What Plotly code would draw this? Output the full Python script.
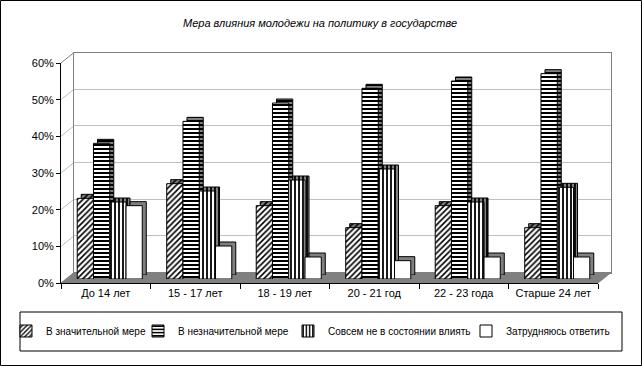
import plotly.graph_objects as go

categories = ["До 14 лет", "15 - 17 лет", "18 - 19 лет", "20 - 21 год", "22 - 23 года", "Старше 24 лет"]
series_names = ["В значительной мере", "В незначительной мере",
                "Совсем не в состоянии влиять", "Затрудняюсь ответить"]
v_significant = [0.22, 0.26, 0.20, 0.14, 0.20, 0.14]
v_insignificant = [0.37, 0.43, 0.48, 0.52, 0.54, 0.56]
v_cannot = [0.21, 0.24, 0.27, 0.30, 0.21, 0.25]
v_hard = [0.20, 0.09, 0.06, 0.05, 0.06, 0.06]
y_ticks = [0, 0.1, 0.2, 0.3, 0.4, 0.5, 0.6]
title_text = "Мера влияния молодежи на политику в государстве"

series_values = [v_significant, v_insignificant, v_cannot, v_hard]
patterns = ["/", "-", "|", ""]
pat_size = [4, 4, 4, 4]
pat_sol = [0.4, 0.5, 0.45, 0.3]
legend_px = [6, 138, 288, 466]

W, H = 642, 366
FONT = "Liberation Sans, Arial, sans-serif"


def X(px):
    return px / W


def Y(py):
    return 1 - py / H


FX0, FX1, FY0, FY1 = 61, 598, 283, 63
BACK = (13, -10.5)
BAR = (4, -4)
SHADOW = (8, -8)


def dom(off):
    dx, dy = off
    return [X(FX0 + dx), X(FX1 + dx)], [Y(FY0 + dy), Y(FY1 + dy)]


fig = go.Figure()

fig.add_trace(go.Scatter(x=categories, y=[None] * 6, xaxis="x", yaxis="y",
                         showlegend=False, hoverinfo="skip"))
fig.add_trace(go.Scatter(x=categories, y=[None] * 6, xaxis="x2", yaxis="y2",
                         showlegend=False, hoverinfo="skip"))

for i, vals in enumerate(series_values):
    fig.add_trace(go.Bar(
        x=categories, y=vals, xaxis="x3", yaxis="y3", showlegend=False,
        hoverinfo="skip",
        marker=dict(color="#808080", line=dict(color="black", width=1),
                    pattern=dict(shape=patterns[i], fgcolor="black", bgcolor="#808080",
                                 size=pat_size[i], solidity=pat_sol[i], fillmode="replace")),
    ))

legend_ids = ["legend", "legend2", "legend3", "legend4"]
for i, vals in enumerate(series_values):
    fig.add_trace(go.Bar(
        x=categories, y=vals, xaxis="x4", yaxis="y4", name=series_names[i],
        legend=legend_ids[i], showlegend=True,
        marker=dict(color="white", line=dict(color="black", width=1),
                    pattern=dict(shape=patterns[i], fgcolor="black", bgcolor="white",
                                 size=pat_size[i], solidity=pat_sol[i], fillmode="replace")),
    ))

bxd, byd = dom(BACK)
fxd, fyd = dom((0, 0))
sxd, syd = dom(SHADOW)
rxd, ryd = dom(BAR)

cat_common = dict(type="category", range=[-0.5, 5.5], categoryorder="array",
                  categoryarray=categories, fixedrange=True)
y_common = dict(range=[0, 0.6], fixedrange=True)

legend_common = dict(orientation="h", xanchor="left", yanchor="middle", y=Y(331),
                     font=dict(size=10), bgcolor="rgba(0,0,0,0)", borderwidth=0,
                     itemwidth=30)
legends = {}
for i, lid in enumerate(legend_ids):
    legends[lid] = dict(x=X(legend_px[i]), **legend_common)

fig.update_layout(
    width=W, height=H, autosize=False,
    margin=dict(l=0, r=0, t=0, b=0, autoexpand=False),
    paper_bgcolor="white", plot_bgcolor="rgba(0,0,0,0)",
    barmode="group", bargap=0.273, bargroupgap=0,
    font=dict(family=FONT, size=11, color="black"),
    xaxis=dict(domain=bxd, anchor="y", showgrid=False, showticklabels=False, ticks="",
               showline=True, linecolor="#808080", linewidth=1, mirror=True, zeroline=False,
               **cat_common),
    yaxis=dict(domain=byd, anchor="x", showgrid=True, gridcolor="#c0c0c0", gridwidth=1,
               tickvals=y_ticks, showticklabels=False, ticks="", zeroline=False,
               showline=True, linecolor="#808080", linewidth=1, mirror=True, **y_common),
    xaxis2=dict(domain=fxd, anchor="y2", showgrid=False, ticks="outside", ticklen=5,
                tickcolor="black", tickson="boundaries", showline=True, linecolor="black",
                linewidth=1, zeroline=False, tickfont=dict(size=11), **cat_common),
    yaxis2=dict(domain=fyd, anchor="x2", showgrid=False, tickvals=y_ticks,
                tickformat=".0%", ticks="outside", ticklen=4, tickcolor="black",
                showline=True, linecolor="black", linewidth=1, zeroline=False,
                tickfont=dict(size=11), **y_common),
    xaxis3=dict(domain=sxd, anchor="y3", visible=False, **cat_common),
    yaxis3=dict(domain=syd, anchor="x3", visible=False, **y_common),
    xaxis4=dict(domain=rxd, anchor="y4", visible=False, **cat_common),
    yaxis4=dict(domain=ryd, anchor="x4", visible=False, **y_common),
    showlegend=True,
    **legends,
)

shapes = []
dx, dy = BACK
floor_path = (f"M {X(FX0)} {Y(FY0)} L {X(FX0 + dx)} {Y(FY0 + dy)} "
              f"L {X(FX1 + dx)} {Y(FY0 + dy)} L {X(FX1)} {Y(FY0)} Z")
shapes.append(dict(type="path", xref="paper", yref="paper", path=floor_path,
                   fillcolor="#808080", line=dict(color="#808080", width=1), layer="below"))
for v in y_ticks[1:]:
    py = FY0 + (FY1 - FY0) * v / 0.6
    col = "#808080" if v == y_ticks[-1] else "#c0c0c0"
    shapes.append(dict(type="line", xref="paper", yref="paper",
                       x0=X(FX0), y0=Y(py), x1=X(FX0 + dx), y1=Y(py + dy),
                       line=dict(color=col, width=1), layer="below"))
shapes.append(dict(type="rect", xref="paper", yref="paper",
                   x0=X(20), y0=Y(312), x1=X(622), y1=Y(351),
                   line=dict(color="black", width=1), fillcolor="rgba(0,0,0,0)"))
shapes.append(dict(type="rect", xref="paper", yref="paper",
                   x0=X(0.5), y0=Y(0.5), x1=X(641.5), y1=Y(365.5),
                   line=dict(color="black", width=1), fillcolor="rgba(0,0,0,0)"))
fig.update_layout(shapes=shapes)

fig.add_annotation(text=f"<i>{title_text}</i>", xref="paper", yref="paper",
                   x=X(320), y=Y(23), showarrow=False, xanchor="center", yanchor="middle",
                   font=dict(family=FONT, size=11))

fig.write_html("out.html", config={"displayModeBar": False},
               post_script="document.body.style.margin='0';document.body.style.padding='0';")
